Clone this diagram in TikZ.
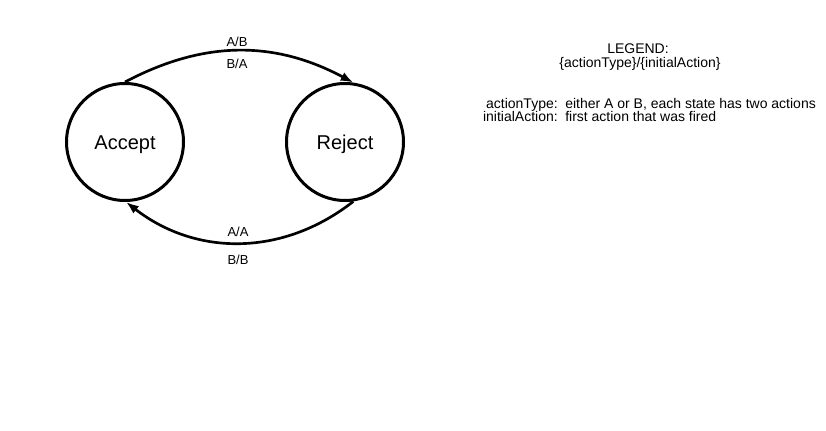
\documentclass[tikz,border=0pt]{standalone}
\usepackage{fontspec}
\setmainfont{Liberation Sans}
\usepackage{tikz}
\usetikzlibrary{arrows.meta}

\begin{document}
\begin{tikzpicture}[x=0.75pt,y=-0.75pt,
		state/.style={draw,circle,line width=2.25pt,minimum size=87.75pt,inner sep=0pt,text height=11pt,text depth=0pt,font=\fontsize{15}{18}\selectfont},
		trans/.style={line width=2pt,-{Latex[length=9.5pt,width=7pt]}},
		lbl/.style={anchor=base,inner sep=0pt,font=\fontsize{9.75}{11}\selectfont},
		legend/.style={inner sep=0pt,font=\fontsize{10.5}{12}\selectfont}]
			\useasboundingbox (0,0) rectangle (826,431);
			
			\node[state] (accept) at (125,142) {Accept};
			\node[state] (reject) at (345,142) {Reject};
			
			\draw[trans] (accept.90) to[bend left=28] (reject.82);
			\draw[trans] (reject.-82) to[bend left=38] (accept.-89);
			
			\node[lbl] (ab) at (237,46.7) {A/B};
			\node[lbl] (ba) at (237,68.3) {B/A};
			\node[lbl] (aa) at (238,236.7) {A/A};
			\node[lbl] (bb) at (238,265) {B/B};
			
			% legend
			\node[legend,anchor=base] (legendtitle) at (638,54) {LEGEND:};
			\node[legend,anchor=base] (legendformat) at (640,67.5) {\{actionType\}/\{initialAction\}};
			\node[legend,anchor=base east] (typekey) at (558,108.5) {actionType:};
			\node[legend,anchor=base west] (typedesc) at (565,108.5) {either A or B, each state has two actions};
			\node[legend,anchor=base east] (initkey) at (558,121.5) {initialAction:};
			\node[legend,anchor=base west] (initdesc) at (565,121.5) {first action that was fired};
			
		\end{tikzpicture}
\end{document}
